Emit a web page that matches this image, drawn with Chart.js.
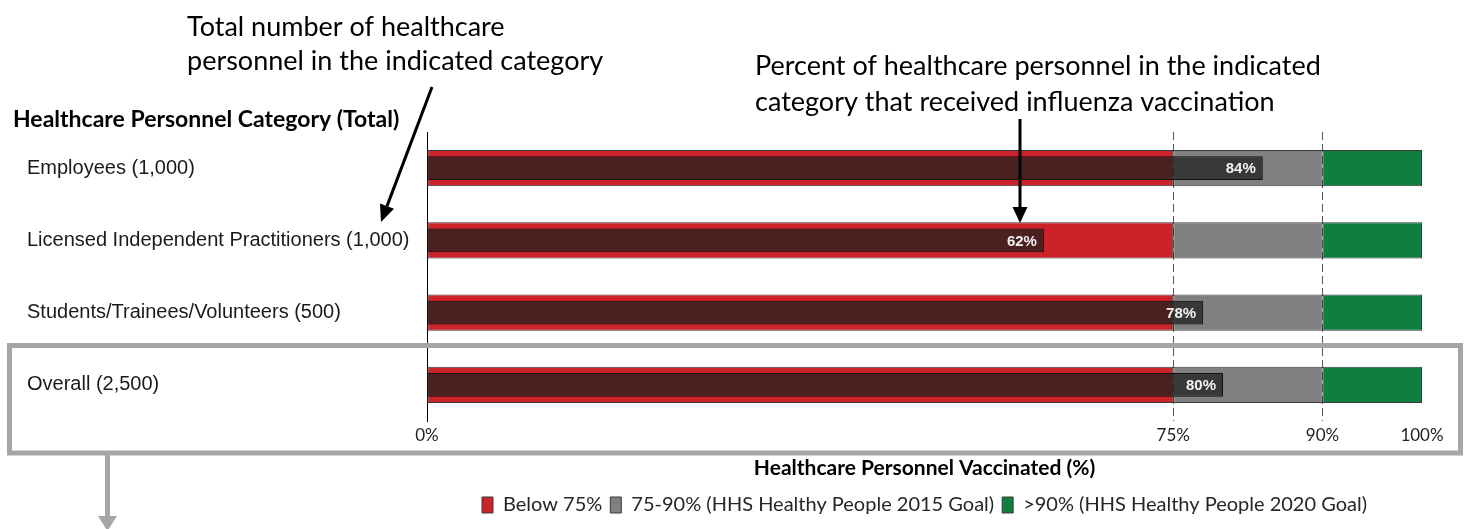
<!DOCTYPE html>
<html>
<head>
<meta charset="utf-8">
<script src="https://cdn.jsdelivr.net/npm/chart.js@4.4.1/dist/chart.umd.min.js"></script>
<style>
  html, body { margin: 0; padding: 0; background: #fff; }
  #wrap { width: 1466px; height: 529px; }
</style>
</head>
<body>
<div id="wrap"><canvas id="chart" width="1466" height="529"></canvas></div>
<script>
const categories = [
  "Employees (1,000)",
  "Licensed Independent Practitioners (1,000)",
  "Students/Trainees/Volunteers (500)",
  "Overall (2,500)"
];
const vaccinatedPct = [84, 62, 78, 80];
const bandBelow75 = [75, 75, 75, 75];
const band2015Goal = [15, 15, 15, 15];
const band2020Goal = [10, 10, 10, 10];
const bandLabels = ["Below 75%", "75-90% (HHS Healthy People 2015 Goal)", ">90% (HHS Healthy People 2020 Goal)"];
const xTickValues = [0, 75, 90, 100];

const SANS = "Lato, 'Open Sans', sans-serif";
const ARIAL = "'Liberation Sans', Arial, sans-serif";

function bandDataset(label, data, color) {
  return {
    label,
    data,
    stack: "bands",
    grouped: false,
    order: 1,
    backgroundColor: color,
    borderColor: "#3a3a3a",
    borderWidth: 1,
    borderSkipped: false,
    barPercentage: 0.5,
    categoryPercentage: 1
  };
}

function drawArrow(ctx, x1, y1, x2, y2, width, headLen, headWidth, color) {
  const angle = Math.atan2(y2 - y1, x2 - x1);
  const bx = x2 - Math.cos(angle) * headLen;
  const by = y2 - Math.sin(angle) * headLen;
  ctx.save();
  ctx.strokeStyle = color;
  ctx.fillStyle = color;
  ctx.lineWidth = width;
  ctx.beginPath();
  ctx.moveTo(x1, y1);
  ctx.lineTo(bx, by);
  ctx.stroke();
  ctx.beginPath();
  ctx.moveTo(x2, y2);
  ctx.lineTo(bx + Math.sin(angle) * headWidth / 2, by - Math.cos(angle) * headWidth / 2);
  ctx.lineTo(bx - Math.sin(angle) * headWidth / 2, by + Math.cos(angle) * headWidth / 2);
  ctx.closePath();
  ctx.fill();
  ctx.restore();
}

const valueLabels = {
  id: "valueLabels",
  afterDatasetsDraw(chart) {
    const ctx = chart.ctx;
    const meta = chart.getDatasetMeta(0);
    ctx.save();
    ctx.font = "bold 15px " + ARIAL;
    ctx.fillStyle = "#f2f2f2";
    ctx.textAlign = "right";
    ctx.textBaseline = "middle";
    meta.data.forEach((bar, i) => {
      ctx.fillText(vaccinatedPct[i] + "%", bar.x - 7, bar.y + 1);
    });
    ctx.restore();
  }
};

const annotations = {
  id: "annotations",
  afterDraw(chart) {
    const ctx = chart.ctx;
    ctx.save();
    ctx.fillStyle = "#000";
    ctx.textAlign = "left";
    ctx.textBaseline = "middle";

    ctx.font = "bold 23px " + SANS;
    ctx.fillText("Healthcare Personnel Category (Total)", 13, 120);

    ctx.font = "27px " + SANS;
    ctx.fillText("Total number of healthcare", 187, 27);
    ctx.fillText("personnel in the indicated category", 187, 61);
    ctx.fillText("Percent of healthcare personnel in the indicated", 755, 66);
    ctx.fillText("category that received influenza vaccination", 755, 102);

    drawArrow(ctx, 432, 87, 381, 222, 3, 17, 15, "#000");
    drawArrow(ctx, 1020, 119, 1020, 223, 3, 16, 15, "#000");

    // box round the overall row
    ctx.strokeStyle = "#a6a6a6";
    ctx.lineWidth = 5;
    ctx.strokeRect(9.5, 345.5, 1451, 107.5);
    drawArrow(ctx, 107.5, 455, 107.5, 531, 5, 15, 19, "#a6a6a6");
    ctx.restore();
  }
};

new Chart(document.getElementById("chart"), {
  type: "bar",
  data: {
    labels: categories,
    datasets: [
      {
        label: "Vaccinated",
        data: vaccinatedPct,
        stack: "value",
        grouped: false,
        order: 0,
        backgroundColor: "rgba(32,34,30,0.75)",
        borderColor: "#111",
        borderWidth: 1,
        borderSkipped: false,
        barPercentage: 0.332,
        categoryPercentage: 1
      },
      bandDataset(bandLabels[0], bandBelow75, "#cc2229"),
      bandDataset(bandLabels[1], band2015Goal, "#808080"),
      bandDataset(bandLabels[2], band2020Goal, "#0e7f3e")
    ]
  },
  options: {
    indexAxis: "y",
    responsive: false,
    animation: false,
    devicePixelRatio: 1,
    layout: { padding: { top: 132, left: 27, right: 44, bottom: 4 } },
    plugins: {
      tooltip: { enabled: false },
      legend: {
        position: "bottom",
        fullSize: false,
        labels: {
          filter: item => item.datasetIndex !== 0,
          boxWidth: 11,
          boxHeight: 16,
          padding: 8,
          color: "#262626",
          font: { family: SANS, size: 20 }
        }
      }
    },
    scales: {
      x: {
        stacked: true,
        min: 0,
        max: 100,
        afterBuildTicks: axis => { axis.ticks = xTickValues.map(v => ({ value: v })); },
        afterFit: axis => { axis.height = 66; },
        ticks: {
          callback: v => v + "%",
          autoSkip: false,
          maxRotation: 0,
          padding: 4,
          color: "#222",
          font: { family: SANS, size: 17 }
        },
        grid: {
          drawTicks: false,
          color: c => (c.tick && (c.tick.value === 75 || c.tick.value === 90)) ? "#555" : "rgba(0,0,0,0)"
        },
        border: { display: false, dash: [8, 4] },
        title: {
          display: true,
          text: "Healthcare Personnel Vaccinated (%)",
          color: "#000",
          padding: { top: 4, bottom: 6 },
          font: { family: SANS, size: 21, weight: "bold" }
        }
      },
      y: {
        stacked: true,
        afterFit: axis => { axis.width = 400; },
        grid: { display: false },
        border: { display: true, color: "#000", width: 1 },
        ticks: {
          crossAlign: "far",
          autoSkip: false,
          padding: 0,
          color: "#1a1a1a",
          font: { family: ARIAL, size: 20 }
        }
      }
    }
  },
  plugins: [valueLabels, annotations]
});
</script>
</body>
</html>
